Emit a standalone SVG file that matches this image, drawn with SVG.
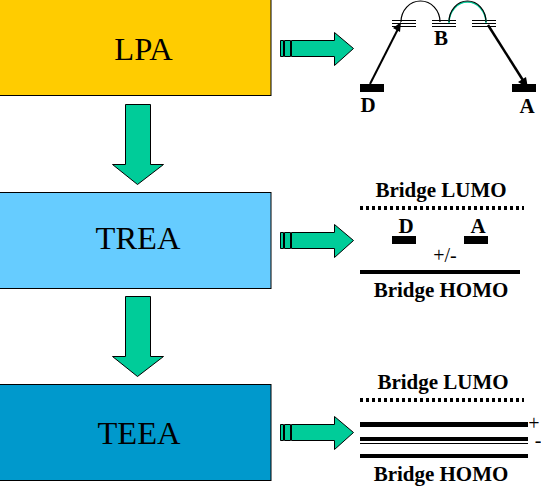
<svg xmlns="http://www.w3.org/2000/svg" width="541" height="486" viewBox="0 0 541 486">
<defs>
<style>
.box{stroke:#000;stroke-width:1}
.arrow{fill:#00CC99;stroke:#000;stroke-width:1}
.t{font-family:"Liberation Serif","Times New Roman",serif;fill:#000;text-anchor:middle}
.big{font-size:32.500px}
.lab{font-size:21px;font-weight:bold}
.sm{font-size:20px}
.bar{fill:#000;stroke:none}
.ln{stroke:#000;fill:none}
</style>
<g id="rightArrow">
<path class="arrow" d="M280.500 0.500h3v16h-3zM284.500 0.500h6v16h-6zM291.500 0.500h43v-8l19 16-19 17v-9h-43z"/>
</g>
<g id="downArrow">
<path class="arrow" d="M125.500 0.500h25v60h13l-26 20-25-20h13z"/>
</g>
</defs>
<rect width="541" height="486" fill="#fff"/>
<g id="lpa"><rect class="box" x="-1" y="-1" width="272" height="96.500" fill="#FFCC00"/><text class="t big" x="143.500" y="60">LPA</text></g>
<g id="trea"><rect class="box" x="-1" y="192.500" width="272" height="96" fill="#66CCFF"/><text class="t big" x="138" y="249">TREA</text></g>
<g id="teea"><rect class="box" x="-1" y="384.500" width="272" height="96" fill="#0099CC"/><text class="t big" x="139" y="444">TEEA</text></g>
<g id="connectors">
<use href="#downArrow" y="104"/>
<use href="#downArrow" y="296"/>
<use href="#rightArrow" y="40"/>
<use href="#rightArrow" y="232"/>
<use href="#rightArrow" y="424"/>
</g>
<g id="lpa-scheme">
<path class="ln" shape-rendering="crispEdges" d="M392 20.500h24M392 23.500h24M392 26.500h24M432 20.500h24M432 23.500h24M432 26.500h24M472 20.500h24M472 23.500h24M472 26.500h24" stroke-width="1"/>
<rect class="bar" x="360" y="84" width="24" height="8"/>
<rect class="bar" x="512" y="84" width="24" height="8"/>
<path class="ln" d="M370 84L399 27" stroke-width="2"/>
<path class="bar" d="M401 22L400 32L393 28z"/>
<path class="ln" d="M488 25L526 85" stroke-width="2.500"/>
<path class="bar" d="M528 88L518 82L526 77z"/>
<path class="ln" d="M401 22A19.500 21 0 0 1 440 22" stroke-width="1.200"/>
<path d="M449 23A18.500 21 0 0 1 486 23" fill="none" stroke="#00CC99" stroke-width="1.500"/>
<path class="ln" d="M449 22A18.500 21 0 0 1 486 22" stroke-width="1.200"/>
<text class="t lab" x="441" y="45">B</text>
<text class="t lab" x="368" y="112">D</text>
<text class="t lab" x="527" y="113">A</text>
</g>
<g id="trea-scheme">
<text class="t lab" x="441" y="197">Bridge LUMO</text>
<path class="ln" d="M360 208H524" stroke-width="4" stroke-dasharray="3 3"/>
<rect class="bar" x="392" y="236" width="24" height="8"/>
<rect class="bar" x="464" y="236" width="24" height="8"/>
<text class="t lab" x="406" y="233">D</text>
<text class="t lab" x="478" y="233">A</text>
<text class="t sm" x="445" y="262">+/-</text>
<rect class="bar" x="360" y="270" width="160" height="4"/>
<text class="t lab" x="441" y="297">Bridge HOMO</text>
</g>
<g id="teea-scheme">
<text class="t lab" x="443" y="389">Bridge LUMO</text>
<path class="ln" d="M360 400H524" stroke-width="4" stroke-dasharray="3 3"/>
<rect class="bar" x="360" y="422" width="168" height="5"/>
<rect class="bar" x="360" y="437" width="168" height="4"/>
<rect class="bar" x="360" y="443" width="168" height="1"/>
<rect class="bar" x="360" y="454" width="168" height="4"/>
<text class="t sm" x="534" y="430">+</text>
<text class="t sm" x="538" y="447">-</text>
<text class="t lab" x="441" y="481">Bridge HOMO</text>
</g>
</svg>
